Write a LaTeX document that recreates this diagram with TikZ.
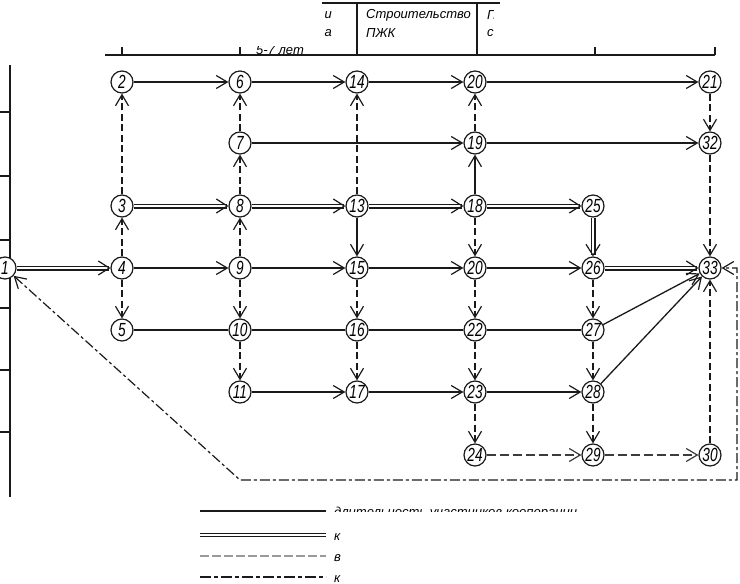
\documentclass[tikz,border=0pt]{standalone}
\usepackage{fontspec}
\newfontfamily\gost{Liberation Sans}[FakeStretch=0.72]
\newfontfamily\gostw{Liberation Sans}
\usetikzlibrary{arrows.meta}
\definecolor{ink}{HTML}{1A1A1A}
\definecolor{lgray}{HTML}{9A9A9A}
\tikzset{barbtip/.tip={Straight Barb[length=11pt,width=13pt,line width=1.2pt]}}
\begin{document}
\begin{tikzpicture}[x=1pt,y=-1pt,
  ev/.style={circle, draw=ink, line width=1.2pt, fill=white, minimum size=22pt, inner sep=0pt,
     font=\gost\itshape\fontsize{19}{19}\selectfont},
  tip/.style={-{barbtip}},
  sl/.style={draw=ink, line width=1.3pt},
  sa/.style={sl, tip},
  da/.style={draw=ink, line width=1.1pt, double=white, double distance=2.8pt,
     -{Straight Barb[length=11pt,width=14pt,line width=1.2pt]}},
  va/.style={draw=ink, line width=1.2pt, dash pattern=on 7pt off 3.5pt, tip},
  ga/.style={draw=ink!85, line width=1.2pt, dash pattern=on 9pt off 4pt, tip},
  dd/.style={draw=ink, line width=1.2pt, dash pattern=on 10pt off 3pt on 3pt off 3pt},
  frame/.style={draw=ink, line width=1.3pt},
  lbl/.style={font=\gostw\itshape\fontsize{13}{13}\selectfont, inner sep=0pt}
]
\useasboundingbox (0,0) rectangle (740,584);

% ---- header ----
\draw[frame] (105,55) -- (715,55);
\foreach \x in {122,240,595,715} \draw[frame] (\x,47) -- (\x,55);
\draw[frame] (322,3) -- (500,3);
\draw[frame] (357,3) -- (357,55);
\draw[frame] (477,3) -- (477,55);
\node[lbl, anchor=west] (hdA) at (366,15) {Строительство};
\node[lbl, anchor=west] (hdB) at (366,33) {ПЖК};
\begin{scope}
  \clip (322,0) rectangle (333,45);
  \node[lbl, anchor=east] (fl1) at (332,15) {и};
  \node[lbl, anchor=east] (fl2) at (332,33) {а};
\end{scope}
\begin{scope}
  \clip (485,0) rectangle (493,45);
  \node[lbl, anchor=west] (fr1) at (487,15) {П};
  \node[lbl, anchor=west] (fr2) at (487,33) {с};
\end{scope}
\begin{scope}
  \clip (250,46) rectangle (320,54);
  \node[lbl, anchor=base west] (yrs) at (256,54) {5-7 лет};
\end{scope}

% ---- left scale ----
\draw[frame] (10,65) -- (10,497);
\foreach \y in {112,176,240,308,370,432} \draw[frame] (0,\y) -- (10,\y);

% ---- events ----
\node[ev] (n1) at (5,268) {1};
\node[ev] (n2) at (122,82) {2};
\node[ev] (n3) at (122,206) {3};
\node[ev] (n4) at (122,268) {4};
\node[ev] (n5) at (122,330) {5};
\node[ev] (n6) at (240,82) {6};
\node[ev] (n7) at (240,143) {7};
\node[ev] (n8) at (240,206) {8};
\node[ev] (n9) at (240,268) {9};
\node[ev] (n10) at (240,330) {10};
\node[ev] (n11) at (240,392) {11};
\node[ev] (n14) at (357,82) {14};
\node[ev] (n13) at (357,206) {13};
\node[ev] (n15) at (357,268) {15};
\node[ev] (n16) at (357,330) {16};
\node[ev] (n17) at (357,392) {17};
\node[ev] (n20a) at (475,82) {20};
\node[ev] (n19) at (475,143) {19};
\node[ev] (n18) at (475,206) {18};
\node[ev] (n20b) at (475,268) {20};
\node[ev] (n22) at (475,330) {22};
\node[ev] (n23) at (475,392) {23};
\node[ev] (n24) at (475,455) {24};
\node[ev] (n25) at (593,206) {25};
\node[ev] (n26) at (593,268) {26};
\node[ev] (n27) at (593,330) {27};
\node[ev] (n28) at (593,392) {28};
\node[ev] (n29) at (593,455) {29};
\node[ev] (n21) at (710,82) {21};
\node[ev] (n32) at (710,143) {32};
\node[ev] (n33) at (710,268) {33};
\node[ev] (n30) at (710,455) {30};

% ---- horizontal works ----
\draw[sa] (n2) -- (n6);
\draw[sa] (n6) -- (n14);
\draw[sa] (n14) -- (n20a);
\draw[sa] (n20a) -- (n21);
\draw[sa] (n7) -- (n19);
\draw[sa] (n19) -- (n32);
\draw[da] (n3) -- (n8);
\draw[da] (n8) -- (n13);
\draw[da] (n13) -- (n18);
\draw[da] (n18) -- (n25);
\draw[da] (n1) -- (n4);
\draw[sa] (n4) -- (n9);
\draw[sa] (n9) -- (n15);
\draw[sa] (n15) -- (n20b);
\draw[sa] (n20b) -- (n26);
\draw[da] (n26) -- (n33);
\draw[sl] (n5) -- (n10);
\draw[sl] (n10) -- (n16);
\draw[sl] (n16) -- (n22);
\draw[sl] (n22) -- (n27);
\draw[sa] (n11) -- (n17);
\draw[sa] (n17) -- (n23);
\draw[sa] (n23) -- (n28);
\draw[ga] (n24) -- (n29);
\draw[ga] (n29) -- (n30);

% ---- vertical links ----
\draw[va] (n3) -- (n2);
\draw[va] (n4) -- (n3);
\draw[va] (n4) -- (n5);
\draw[va] (n7) -- (n6);
\draw[va] (n8) -- (n7);
\draw[va] (n9) -- (n8);
\draw[va] (n9) -- (n10);
\draw[va] (n10) -- (n11);
\draw[va] (n13) -- (n14);
\draw[sa] (n13) -- (n15);
\draw[va] (n15) -- (n16);
\draw[va] (n16) -- (n17);
\draw[va] (n19) -- (n20a);
\draw[sa] (n18) -- (n19);
\draw[va] (n18) -- (n20b);
\draw[va] (n20b) -- (n22);
\draw[va] (n22) -- (n23);
\draw[va] (n23) -- (n24);
\draw[da] (n25) -- (n26);
\draw[va] (n26) -- (n27);
\draw[va] (n27) -- (n28);
\draw[va] (n28) -- (n29);
\draw[va] (n21) -- (n32);
\draw[va] (n32) -- (n33);
\draw[va] (n30) -- (n33);
\draw[sa] (n27) -- (n33);
\draw[sa] (n28) -- (n33);

% ---- feedback link ----
\coordinate (fbA) at (240,480);
\coordinate (fbB) at (737,480);
\coordinate (fbC) at (737,268);
\draw[dd, {barbtip}-{barbtip}] (n1) -- (fbA) -- (fbB) -- (fbC) -- (n33);

% ---- legend ----
\coordinate (la1) at (200,511); \coordinate (lb1) at (326,511);
\coordinate (la2) at (200,535); \coordinate (lb2) at (326,535);
\coordinate (la3) at (200,556); \coordinate (lb3) at (326,556);
\coordinate (la4) at (200,577); \coordinate (lb4) at (326,577);
\draw[draw=ink, line width=1.6pt] (la1) -- (lb1);
\draw[draw=ink, line width=1.2pt, double=white, double distance=2.2pt] (la2) -- (lb2);
\draw[draw=lgray, line width=1.2pt, dash pattern=on 9pt off 3pt] (la3) -- (lb3);
\draw[draw=ink, line width=1.4pt, dash pattern=on 11pt off 3pt on 4pt off 3pt] (la4) -- (lb4);
\begin{scope}
  \clip (330,495) rectangle (610,511);
  \node[lbl, anchor=base west] (lt1) at (334,516) {длительность участников кооперации};
\end{scope}
\node[lbl, anchor=base west] (lt2) at (334,540) {к};
\node[lbl, anchor=base west] (lt3) at (334,561) {в};
\node[lbl, anchor=base west] (lt4) at (334,582) {к};
\end{tikzpicture}
\end{document}
